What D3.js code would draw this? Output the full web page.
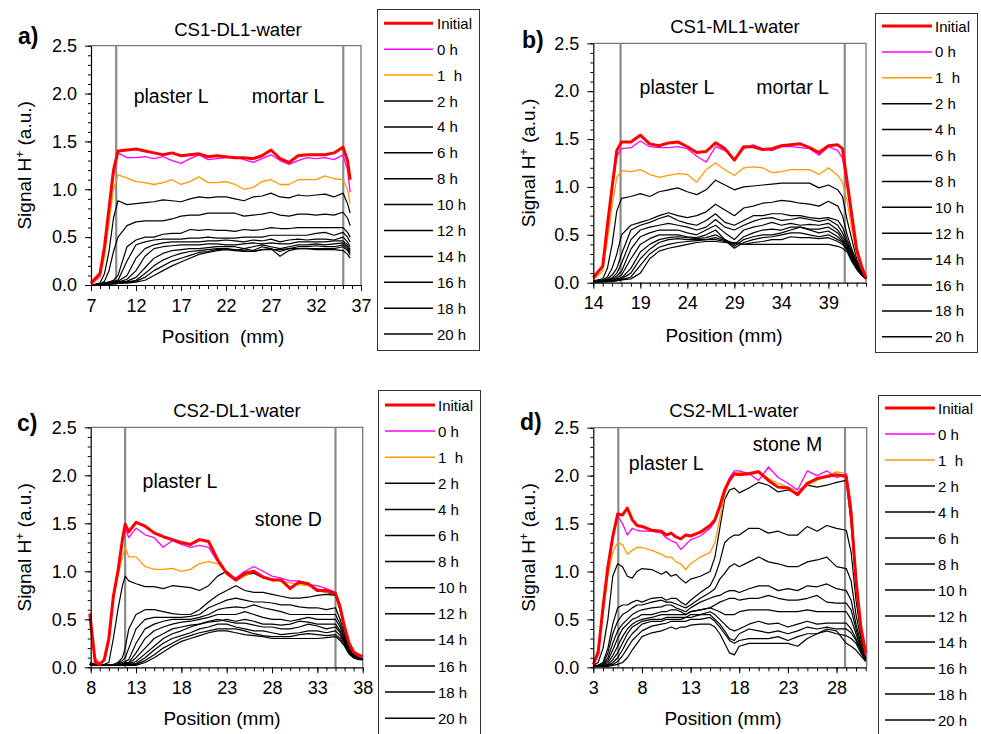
<!DOCTYPE html>
<html><head><meta charset="utf-8">
<script src="https://cdn.jsdelivr.net/npm/d3@7"></script>
<style>
body{margin:0;background:#fff;}
svg{display:block;font-family:"Liberation Sans",Arial,Helvetica,sans-serif;}
text{white-space:pre;}
</style>
</head><body>
<svg id="chart" width="981" height="734"></svg>
<script>
// ---------------- DATA ----------------
const seriesNames = ["Initial","0 h","1  h","2 h","4 h","6 h","8 h","10 h","12 h","14 h","16 h","18 h","20 h"];
const yTicks = [0, 0.5, 1.0, 1.5, 2.0, 2.5];

// Panel a) CS1-DL1-water
const xTicksA = [7, 12, 17, 22, 27, 32, 37];
const xGridA = [7,8,8.5,9,9.5,10, 11,12,13,14,15,16,17,18,19,20,21,22,23,24,25,26,27,28,29,30,31,32,33,34,35, 35.5,35.8];
const valuesA = [
 [0.02,0.12,0.40,0.80,1.20,1.40, 1.41,1.42,1.40,1.38,1.36, 1.38,1.35,1.36,1.37,1.34, 1.35,1.34,1.33,1.33,1.32, 1.35,1.41,1.32,1.28,1.35, 1.36,1.36,1.36,1.38,1.44, 1.30,1.10],
 [0.01,0.10,0.38,0.78,1.15,1.38, 1.33,1.33,1.34,1.32,1.34, 1.30,1.27,1.32,1.36,1.31, 1.32,1.33,1.34,1.31,1.28, 1.32,1.36,1.30,1.26,1.30, 1.33,1.32,1.33,1.31,1.36, 1.20,0.97],
 [0.00,0.08,0.30,0.65,1.00,1.15, 1.12,1.08,1.07,1.05,1.07, 1.10,1.05,1.08,1.13,1.07, 1.07,1.08,1.05,1.00,1.02, 1.08,1.10,1.05,1.05,1.10, 1.10,1.10,1.14,1.11,1.10, 1.00,0.85],
 [0.00,0.02,0.12,0.35,0.70,0.88, 0.84,0.85,0.86,0.87,0.89, 0.88,0.87,0.90,0.92,0.91, 0.92,0.92,0.90,0.88,0.92, 0.93,0.96,0.92,0.91,0.94, 0.93,0.94,0.95,0.92,0.96, 0.85,0.75],
 [0.00,0.01,0.04,0.15,0.35,0.50, 0.62,0.66,0.67,0.67,0.67, 0.69,0.72,0.73,0.73,0.75, 0.75,0.75,0.75,0.72,0.73, 0.74,0.76,0.73,0.72,0.74, 0.74,0.73,0.74,0.73,0.76, 0.70,0.62],
 [0.00,0.01,0.02,0.03,0.05,0.10, 0.40,0.47,0.50,0.50,0.53, 0.54,0.54,0.58,0.57,0.58, 0.57,0.57,0.56,0.58,0.57, 0.58,0.60,0.59,0.59,0.60, 0.60,0.60,0.60,0.60,0.60, 0.55,0.50],
 [0.00,0.01,0.02,0.03,0.04,0.05, 0.25,0.42,0.45,0.47,0.48, 0.48,0.48,0.49,0.49,0.50, 0.49,0.49,0.49,0.50,0.50, 0.50,0.52,0.52,0.52,0.52, 0.52,0.54,0.55,0.52,0.55, 0.50,0.45],
 [0.00,0.01,0.02,0.03,0.03,0.04, 0.10,0.28,0.38,0.42,0.44, 0.45,0.45,0.45,0.45,0.46, 0.46,0.47,0.46,0.45,0.47, 0.46,0.48,0.45,0.47,0.48, 0.47,0.48,0.48,0.47,0.50, 0.45,0.40],
 [0.00,0.01,0.02,0.02,0.03,0.03, 0.06,0.15,0.30,0.38,0.40, 0.41,0.42,0.42,0.42,0.43, 0.43,0.42,0.42,0.43,0.44, 0.43,0.44,0.43,0.43,0.45, 0.45,0.45,0.45,0.46,0.46, 0.42,0.37],
 [0.00,0.01,0.01,0.02,0.02,0.03, 0.04,0.08,0.18,0.28,0.33, 0.36,0.37,0.38,0.38,0.39, 0.40,0.40,0.40,0.38,0.40, 0.42,0.40,0.38,0.40,0.42, 0.42,0.43,0.42,0.43,0.44, 0.40,0.35],
 [0.00,0.01,0.01,0.02,0.02,0.02, 0.03,0.05,0.12,0.20,0.26, 0.30,0.33,0.35,0.36,0.37, 0.38,0.38,0.36,0.38,0.36, 0.40,0.38,0.35,0.38,0.40, 0.40,0.41,0.40,0.40,0.42, 0.38,0.33],
 [0.00,0.00,0.01,0.01,0.02,0.02, 0.03,0.04,0.08,0.15,0.20, 0.25,0.28,0.31,0.34,0.35, 0.37,0.38,0.37,0.36,0.35, 0.37,0.38,0.30,0.36,0.38, 0.38,0.38,0.38,0.38,0.40, 0.36,0.31],
 [0.00,0.00,0.01,0.01,0.01,0.02, 0.02,0.03,0.05,0.10,0.15, 0.20,0.24,0.28,0.32,0.34, 0.36,0.37,0.36,0.35,0.35, 0.37,0.37,0.37,0.38,0.38, 0.38,0.37,0.37,0.37,0.36, 0.32,0.28]
];

// Panel b) CS1-ML1-water
const xTicksB = [14, 19, 24, 29, 34, 39];
const xGridB = [14,15,15.5,16,16.5, 17,18,19,20,21,22,23,24,25,26,27,28,29,30,31,32,33,34,35,36,37,38,39,40, 40.5,41,41.5,42,42.5,43];
const valuesB = [
 [0.05,0.17,0.60,1.00,1.38, 1.47,1.47,1.54,1.45,1.43,1.46, 1.47,1.42,1.36,1.37,1.46,1.40, 1.28,1.42,1.42,1.39,1.40,1.43, 1.44,1.45,1.41,1.36,1.43,1.44, 1.40,1.05,0.70,0.35,0.18,0.05],
 [0.07,0.18,0.58,0.98,1.32, 1.40,1.41,1.48,1.42,1.41,1.41, 1.42,1.40,1.32,1.26,1.42,1.38, 1.28,1.40,1.44,1.40,1.38,1.42, 1.42,1.41,1.40,1.33,1.42,1.38, 1.30,1.00,0.65,0.33,0.17,0.06],
 [0.03,0.12,0.45,0.80,1.10, 1.17,1.16,1.18,1.13,1.10,1.12, 1.14,1.13,1.05,1.18,1.25,1.18, 1.12,1.20,1.21,1.20,1.15,1.16, 1.18,1.18,1.18,1.13,1.20,1.12, 1.05,0.85,0.55,0.30,0.15,0.05],
 [0.02,0.04,0.15,0.40,0.75, 0.88,0.90,0.93,0.90,0.95,0.97, 0.99,0.95,0.92,0.97,1.07,1.02, 0.97,1.00,1.01,1.02,1.03,1.04, 1.04,1.04,1.04,0.99,1.02,0.97, 0.90,0.65,0.45,0.25,0.13,0.05],
 [0.01,0.03,0.06,0.15,0.30, 0.50,0.60,0.63,0.66,0.70,0.73, 0.70,0.68,0.70,0.74,0.82,0.76, 0.70,0.78,0.80,0.83,0.84,0.86, 0.85,0.83,0.82,0.80,0.85,0.80, 0.70,0.50,0.35,0.22,0.12,0.05],
 [0.01,0.02,0.04,0.08,0.15, 0.30,0.55,0.60,0.63,0.67,0.70, 0.65,0.62,0.60,0.65,0.72,0.63, 0.60,0.65,0.70,0.70,0.72,0.72, 0.70,0.70,0.68,0.67,0.68,0.65, 0.58,0.45,0.32,0.20,0.12,0.05],
 [0.01,0.02,0.03,0.05,0.10, 0.20,0.45,0.55,0.58,0.60,0.62, 0.60,0.58,0.55,0.58,0.66,0.58, 0.55,0.60,0.64,0.67,0.68,0.65, 0.66,0.68,0.66,0.64,0.66,0.60, 0.52,0.42,0.30,0.20,0.11,0.05],
 [0.01,0.02,0.03,0.04,0.07, 0.12,0.35,0.48,0.52,0.55,0.55, 0.55,0.52,0.50,0.55,0.60,0.52, 0.45,0.55,0.58,0.60,0.63,0.60, 0.62,0.60,0.61,0.60,0.62,0.55, 0.48,0.40,0.28,0.18,0.10,0.04],
 [0.01,0.01,0.02,0.03,0.05, 0.08,0.25,0.40,0.46,0.50,0.50, 0.50,0.48,0.47,0.50,0.55,0.45, 0.40,0.48,0.52,0.55,0.56,0.55, 0.58,0.58,0.56,0.56,0.58,0.52, 0.45,0.38,0.27,0.17,0.10,0.04],
 [0.01,0.01,0.02,0.03,0.04, 0.05,0.15,0.32,0.40,0.45,0.47, 0.48,0.47,0.46,0.47,0.50,0.45, 0.38,0.45,0.48,0.50,0.50,0.52, 0.55,0.58,0.55,0.52,0.54,0.48, 0.43,0.36,0.26,0.16,0.09,0.04],
 [0.01,0.01,0.02,0.02,0.03, 0.04,0.10,0.25,0.35,0.42,0.45, 0.46,0.45,0.45,0.45,0.47,0.44, 0.36,0.42,0.45,0.47,0.48,0.50, 0.52,0.52,0.50,0.48,0.50,0.45, 0.42,0.35,0.25,0.16,0.09,0.04],
 [0.01,0.01,0.01,0.02,0.02, 0.03,0.06,0.18,0.30,0.37,0.40, 0.42,0.43,0.44,0.45,0.45,0.43, 0.42,0.40,0.42,0.43,0.45,0.45, 0.48,0.47,0.47,0.46,0.47,0.43, 0.40,0.34,0.24,0.15,0.09,0.04],
 [0.01,0.01,0.01,0.01,0.02, 0.03,0.04,0.10,0.25,0.33,0.36, 0.38,0.40,0.42,0.43,0.43,0.42, 0.41,0.40,0.40,0.40,0.40,0.40, 0.40,0.40,0.40,0.40,0.40,0.38, 0.36,0.32,0.22,0.14,0.08,0.04]
];

// Panel c) CS2-DL1-water
const xTicksC = [8, 13, 18, 23, 28, 33, 38];
const xGridC = [7.9,8.5,9,9.5,10,10.5,11,11.5,11.8,12.2, 13,14,15,16,17,18,19,20,21,22,23,24,25,26,27,28,29,30,31,32,33,34,35, 35.5,36,36.5,37,37.5,38];
const valuesC = [
 [0.56,0.05,0.03,0.08,0.30,0.74,1.00,1.33,1.49,1.41, 1.51,1.47,1.40,1.36,1.33, 1.30,1.28,1.33,1.31,1.12, 0.98,0.91,0.98,1.00,0.94, 0.91,0.91,0.82,0.89,0.87, 0.80,0.80,0.77, 0.63,0.42,0.25,0.16,0.13,0.11],
 [0.50,0.08,0.03,0.07,0.28,0.75,1.00,1.30,1.45,1.35, 1.45,1.38,1.35,1.25,1.32, 1.28,1.25,1.27,1.25,1.10, 0.98,0.93,1.00,1.05,1.00, 0.95,0.93,0.90,0.90,0.86, 0.85,0.82,0.78, 0.62,0.40,0.25,0.15,0.12,0.10],
 [0.45,0.10,0.05,0.07,0.25,0.70,0.95,1.15,1.25,1.15, 1.15,1.05,1.02,1.02,1.03, 1.00,1.02,1.08,1.10,1.08, 0.98,0.90,0.95,1.00,0.95, 0.92,0.90,0.88,0.86,0.85, 0.82,0.78,0.78, 0.65,0.42,0.25,0.15,0.12,0.10],
 [0.05,0.03,0.02,0.03,0.05,0.30,0.60,0.85,0.95,0.90, 0.87,0.84,0.84,0.82,0.85, 0.84,0.83,0.80,0.85,0.95, 1.00,0.92,0.96,0.98,0.93, 0.92,0.90,0.83,0.88,0.86, 0.80,0.78,0.76, 0.60,0.40,0.22,0.14,0.12,0.10],
 [0.03,0.02,0.02,0.02,0.02,0.03,0.05,0.10,0.20,0.40, 0.55,0.60,0.60,0.58,0.56, 0.55,0.55,0.60,0.68,0.75, 0.80,0.85,0.80,0.78,0.78, 0.76,0.74,0.72,0.72,0.73, 0.75,0.76,0.75, 0.60,0.38,0.22,0.14,0.11,0.10],
 [0.03,0.02,0.02,0.02,0.02,0.02,0.04,0.07,0.10,0.20, 0.40,0.50,0.52,0.52,0.52, 0.52,0.53,0.55,0.62,0.66, 0.70,0.72,0.70,0.68,0.68, 0.67,0.65,0.65,0.63,0.62, 0.62,0.60,0.62, 0.50,0.35,0.20,0.13,0.11,0.10],
 [0.03,0.02,0.02,0.02,0.02,0.02,0.03,0.05,0.06,0.08, 0.25,0.40,0.45,0.48,0.50, 0.50,0.50,0.52,0.55,0.60, 0.62,0.63,0.62,0.65,0.62, 0.60,0.58,0.55,0.55,0.55, 0.55,0.55,0.55, 0.45,0.32,0.18,0.12,0.10,0.09],
 [0.03,0.02,0.02,0.02,0.02,0.02,0.03,0.04,0.05,0.05, 0.15,0.30,0.38,0.42,0.45, 0.47,0.48,0.50,0.52,0.55, 0.55,0.55,0.58,0.55,0.52, 0.50,0.50,0.48,0.50,0.52, 0.50,0.50,0.50, 0.42,0.30,0.17,0.12,0.10,0.09],
 [0.03,0.02,0.02,0.02,0.02,0.02,0.02,0.03,0.04,0.04, 0.10,0.20,0.30,0.35,0.40, 0.42,0.44,0.45,0.47,0.48, 0.50,0.48,0.50,0.48,0.45, 0.45,0.44,0.45,0.48,0.47, 0.45,0.45,0.45, 0.38,0.28,0.16,0.11,0.10,0.09],
 [0.03,0.02,0.02,0.02,0.02,0.02,0.02,0.03,0.03,0.04, 0.06,0.14,0.22,0.30,0.35, 0.38,0.42,0.45,0.48,0.50, 0.48,0.46,0.46,0.44,0.42, 0.42,0.40,0.40,0.42,0.45, 0.43,0.40,0.42, 0.36,0.26,0.15,0.11,0.09,0.08],
 [0.03,0.02,0.02,0.02,0.02,0.02,0.02,0.02,0.03,0.03, 0.04,0.10,0.18,0.25,0.30, 0.33,0.36,0.40,0.42,0.45, 0.45,0.42,0.40,0.38,0.38, 0.36,0.34,0.35,0.36,0.38, 0.38,0.36,0.38, 0.33,0.25,0.15,0.10,0.09,0.08],
 [0.03,0.02,0.02,0.02,0.02,0.02,0.02,0.02,0.02,0.03, 0.03,0.07,0.13,0.20,0.25, 0.30,0.33,0.36,0.38,0.40, 0.40,0.40,0.38,0.35,0.33, 0.32,0.32,0.32,0.34,0.35, 0.34,0.33,0.34, 0.30,0.23,0.14,0.10,0.09,0.08],
 [0.03,0.02,0.02,0.02,0.02,0.02,0.02,0.02,0.02,0.02, 0.02,0.05,0.10,0.16,0.22, 0.27,0.30,0.33,0.36,0.38, 0.38,0.36,0.34,0.33,0.32, 0.30,0.30,0.30,0.30,0.30, 0.30,0.31,0.32, 0.28,0.22,0.14,0.10,0.08,0.08]
];

// Panel d) CS2-ML1-water
const xTicksD = [3, 8, 13, 18, 23, 28];
const xGridD = [3,3.5,4,4.5,5,5.5,6,6.5,7,7.5,8, 9,10, 10.5,11,11.5,12,12.5,13, 14,15, 15.5,16,16.5,17,17.5,18, 19,20,21,22,23,24,25,26,27,28,29, 29.5,30,30.5,31];
const valuesD = [
 [0.03,0.15,0.63,1.05,1.36,1.60,1.59,1.66,1.54,1.48,1.47, 1.43,1.42, 1.38,1.40,1.36,1.34,1.38,1.37, 1.41,1.48, 1.54,1.68,1.85,1.95,2.02,2.01, 2.02,2.04,1.95,1.88,1.87,1.80,1.92,1.97,1.99,2.01,1.99, 1.60,0.91,0.42,0.15],
 [0.00,0.18,0.65,1.05,1.40,1.58,1.50,1.38,1.45,1.43,1.42, 1.42,1.40, 1.35,1.32,1.30,1.23,1.28,1.33, 1.37,1.45, 1.52,1.67,1.85,1.98,2.05,2.05, 2.02,1.95,2.09,1.98,1.92,1.85,2.05,2.00,2.05,1.98,2.02, 1.70,0.95,0.42,0.12],
 [0.05,0.20,0.55,0.95,1.20,1.30,1.28,1.18,1.22,1.25,1.25, 1.22,1.18, 1.15,1.15,1.10,1.08,1.02,1.08, 1.15,1.20, 1.30,1.55,1.80,1.95,2.02,2.03, 2.03,2.05,1.97,1.92,1.88,1.85,1.90,1.95,2.00,2.04,2.02, 1.60,0.90,0.40,0.15],
 [0.02,0.05,0.20,0.50,0.95,1.08,1.05,0.95,0.93,1.00,1.03, 1.02,0.97, 1.00,0.95,0.97,0.92,0.88,0.92, 0.95,1.00, 1.15,1.45,1.75,1.85,1.87,1.82, 1.87,1.93,1.90,1.83,1.85,1.82,1.90,1.88,1.90,1.93,1.95, 1.50,0.85,0.40,0.12],
 [0.01,0.02,0.05,0.20,0.45,0.62,0.65,0.65,0.68,0.70,0.68, 0.72,0.73, 0.70,0.72,0.72,0.68,0.65,0.70, 0.78,0.85, 0.95,1.10,1.30,1.35,1.38,1.38, 1.45,1.45,1.40,1.42,1.38,1.38,1.47,1.42,1.48,1.45,1.43, 1.20,0.70,0.35,0.12],
 [0.01,0.02,0.04,0.15,0.35,0.48,0.55,0.58,0.62,0.65,0.65, 0.68,0.70, 0.68,0.68,0.66,0.64,0.62,0.65, 0.72,0.78, 0.82,0.92,0.98,1.05,1.08,1.05, 1.10,1.15,1.10,1.08,1.05,1.05,1.10,1.12,1.15,1.05,1.03, 0.90,0.55,0.30,0.10],
 [0.01,0.02,0.03,0.10,0.25,0.38,0.45,0.50,0.55,0.58,0.60, 0.62,0.63, 0.65,0.65,0.62,0.60,0.58,0.62, 0.68,0.72, 0.74,0.75,0.78,0.80,0.80,0.78, 0.82,0.85,0.85,0.80,0.82,0.80,0.85,0.84,0.87,0.82,0.80, 0.70,0.45,0.25,0.10],
 [0.01,0.02,0.03,0.07,0.18,0.30,0.40,0.45,0.50,0.52,0.55, 0.55,0.58, 0.58,0.60,0.60,0.58,0.55,0.58, 0.60,0.62, 0.65,0.68,0.70,0.72,0.72,0.70, 0.72,0.72,0.75,0.72,0.70,0.70,0.72,0.75,0.68,0.67,0.67, 0.60,0.40,0.22,0.09],
 [0.01,0.01,0.02,0.05,0.12,0.22,0.32,0.40,0.45,0.48,0.50, 0.52,0.55, 0.55,0.55,0.55,0.55,0.55,0.58, 0.60,0.62, 0.60,0.58,0.55,0.55,0.55,0.58, 0.60,0.60,0.60,0.58,0.58,0.58,0.60,0.58,0.58,0.58,0.58, 0.50,0.35,0.20,0.08],
 [0.01,0.01,0.02,0.03,0.08,0.15,0.25,0.35,0.42,0.45,0.48, 0.50,0.50, 0.52,0.52,0.52,0.52,0.52,0.55, 0.55,0.58, 0.55,0.50,0.45,0.40,0.38,0.40, 0.45,0.48,0.45,0.46,0.42,0.45,0.48,0.45,0.46,0.46,0.46, 0.40,0.30,0.18,0.08],
 [0.01,0.01,0.01,0.02,0.05,0.10,0.18,0.28,0.35,0.40,0.45, 0.48,0.48, 0.50,0.50,0.50,0.50,0.52,0.52, 0.55,0.55, 0.50,0.45,0.38,0.30,0.28,0.35, 0.40,0.38,0.36,0.38,0.35,0.38,0.42,0.40,0.42,0.40,0.40, 0.36,0.28,0.17,0.08],
 [0.01,0.01,0.01,0.02,0.03,0.06,0.12,0.20,0.28,0.33,0.38, 0.43,0.45, 0.46,0.48,0.48,0.48,0.48,0.50, 0.50,0.52, 0.48,0.42,0.35,0.28,0.25,0.28, 0.30,0.30,0.30,0.32,0.28,0.32,0.35,0.35,0.38,0.35,0.33, 0.30,0.25,0.15,0.07],
 [0.01,0.01,0.01,0.01,0.02,0.03,0.05,0.10,0.18,0.25,0.32, 0.36,0.38, 0.40,0.42,0.40,0.42,0.42,0.44, 0.45,0.45, 0.42,0.35,0.25,0.15,0.13,0.22, 0.25,0.25,0.25,0.25,0.25,0.22,0.30,0.35,0.40,0.38,0.25, 0.22,0.18,0.12,0.06]
];

// ---------------- STYLE / LAYOUT ----------------
const seriesColors = ["#ff0000","#ff00ff","#ff9900","#000","#000","#000","#000","#000","#000","#000","#000","#000","#000"];
const seriesWidths = [3, 1.3, 1.3, 1.2, 1.2, 1.2, 1.2, 1.2, 1.2, 1.2, 1.2, 1.2, 1.2];

const panels = [
 {label:"a)", title:"CS1-DL1-water", xs:xGridA, ys:valuesA, xDomain:[7,37], xTicks:xTicksA,
  L:91, T:45.7, R:361, B:285, grey:[9.8,35.03],
  notes:[{t:"plaster L", x:15.9, y:1.90},{t:"mortar L", x:28.9, y:1.90}],
  titlePos:[238,36], labelPos:[18,44], yLabX:24, xLab:{t:"Position\u00a0 (mm)", x:223, y:343},
  legend:{x:377, y:9, w:102, h:341, lx1:384, lx2:433, tx:437, y0:23.3, dy:25.9}},
 {label:"b)", title:"CS1-ML1-water", xs:xGridB, ys:valuesB, xDomain:[14,43], xTicks:xTicksB,
  L:593.3, T:43.3, R:866, B:282.7, grey:[16.9,40.74],
  notes:[{t:"plaster L", x:22.9, y:1.97},{t:"mortar L", x:35.2, y:1.97}],
  titlePos:[735,33], labelPos:[522,48], yLabX:528, xLab:{t:"Position (mm)", x:724, y:342},
  legend:{x:875, y:13, w:102, h:339, lx1:882, lx2:932, tx:935, y0:26, dy:25.9}},
 {label:"c)", title:"CS2-DL1-water", xs:xGridC, ys:valuesC, xDomain:[8,38], xTicks:xTicksC,
  L:90.7, T:427.3, R:362.7, B:667.3, grey:[11.8,35.0],
  notes:[{t:"plaster L", x:17.85, y:1.87},{t:"stone D", x:29.8, y:1.47}],
  titlePos:[237,417], labelPos:[17,431], yLabX:24, xLab:{t:"Position (mm)", x:222, y:725},
  legend:{x:378, y:390, w:102, h:360, lx1:385, lx2:435, tx:438, y0:405, dy:26.1}},
 {label:"d)", title:"CS2-ML1-water", xs:xGridD, ys:valuesD, xDomain:[3,31.1], xTicks:xTicksD,
  L:593.3, T:427.7, R:866.7, B:667.3, grey:[5.57,28.87],
  notes:[{t:"plaster L", x:10.5, y:2.06},{t:"stone M", x:22.96, y:2.26}],
  titlePos:[734,417], labelPos:[520,430], yLabX:528, xLab:{t:"Position (mm)", x:723, y:725},
  legend:{x:878, y:395, w:110, h:360, lx1:885, lx2:935, tx:938, y0:408, dy:26}}
];

// ---------------- DRAW ----------------
const svg = d3.select("#chart");
const FONT = '"Liberation Sans",Arial,Helvetica,sans-serif';

panels.forEach(p => {
  const x = d3.scaleLinear().domain(p.xDomain).range([p.L, p.R]);
  const y = d3.scaleLinear().domain([0, 2.5]).range([p.B, p.T]);
  const g = svg.append("g");

  // frame (top & right)
  g.append("path").attr("d", `M${p.L},${p.T}H${p.R}V${p.B}`)
    .attr("fill","none").attr("stroke","#777").attr("stroke-width",1.3);

  // grey interface lines
  p.grey.forEach(v => g.append("line")
    .attr("x1", x(v)).attr("x2", x(v)).attr("y1", p.T).attr("y2", p.B)
    .attr("stroke","#8a8a8a").attr("stroke-width",2.2));

  // series (draw black first, coloured on top)
  const line = d3.line().defined(d => d[1] != null && !isNaN(d[1]))
    .x(d => x(d[0])).y(d => y(d[1]));
  for (let i = p.ys.length - 1; i >= 0; i--) {
    const pts = p.xs.map((xv, k) => [xv, p.ys[i][k]]);
    g.append("path").datum(pts).attr("d", line)
      .attr("fill","none").attr("stroke", seriesColors[i])
      .attr("stroke-width", seriesWidths[i]).attr("stroke-linejoin","round");
  }

  // x axis: minor ticks
  const xMinor = d3.range(Math.ceil(p.xDomain[0]), p.xDomain[1] + 0.001, 1);
  g.append("g").attr("transform", `translate(0,${p.B})`)
    .call(d3.axisBottom(x).tickValues(xMinor).tickSize(4).tickSizeOuter(0).tickFormat(""))
    .call(s => s.select(".domain").remove());
  // x axis: major
  const xa = g.append("g").attr("transform", `translate(0,${p.B})`)
    .call(d3.axisBottom(x).tickValues(p.xTicks).tickSize(6).tickSizeOuter(0).tickPadding(8).tickFormat(d3.format("d")));
  xa.select(".domain").attr("d", `M${p.L},0.5H${p.R}`).attr("stroke","#000").attr("stroke-width",1.2);
  xa.selectAll("text").attr("font-size", 18).attr("font-family", FONT).attr("fill","#000");

  // y axis: minor
  const yMinor = d3.range(0, 2.501, 0.1);
  g.append("g").attr("transform", `translate(${p.L},0)`)
    .call(d3.axisLeft(y).tickValues(yMinor).tickSize(3).tickSizeOuter(0).tickFormat(""))
    .call(s => s.select(".domain").remove());
  const ya = g.append("g").attr("transform", `translate(${p.L},0)`)
    .call(d3.axisLeft(y).tickValues(yTicks).tickSize(6).tickSizeOuter(0).tickPadding(8).tickFormat(d3.format(".1f")));
  ya.select(".domain").attr("stroke","#000").attr("stroke-width",1.2);
  ya.selectAll("text").attr("font-size", 18).attr("font-family", FONT).attr("fill","#000");

  // notes
  p.notes.forEach(n => g.append("text").attr("x", x(n.x)).attr("y", y(n.y))
    .attr("text-anchor","middle").attr("font-size", 19.5).text(n.t));

  // title
  g.append("text").attr("x", p.titlePos[0]).attr("y", p.titlePos[1])
    .attr("text-anchor","middle").attr("font-size", 18.5).text(p.title);
  // panel label
  g.append("text").attr("x", p.labelPos[0]).attr("y", p.labelPos[1])
    .attr("font-size", 23).attr("font-weight","bold").text(p.label);

  // y label
  const yl = g.append("text")
    .attr("transform", `translate(${p.yLabX},${(p.T + p.B) / 2}) rotate(-90)`)
    .attr("text-anchor","middle").attr("dy","0.35em").attr("font-size", 19);
  yl.append("tspan").text("Signal H");
  yl.append("tspan").attr("font-size", 12).attr("dy", -7).text("+");
  yl.append("tspan").attr("dy", 7).text(" (a.u.)");

  // x label
  g.append("text").attr("x", p.xLab.x).attr("y", p.xLab.y)
    .attr("text-anchor","middle").attr("font-size", 19).text(p.xLab.t);

  // legend
  const lg = p.legend;
  g.append("rect").attr("x", lg.x + 0.5).attr("y", lg.y + 0.5).attr("width", lg.w).attr("height", lg.h)
    .attr("fill","#fff").attr("stroke","#333").attr("stroke-width",1);
  seriesNames.forEach((name, i) => {
    const yy = lg.y0 + i * lg.dy;
    g.append("line").attr("x1", lg.lx1).attr("x2", lg.lx2).attr("y1", yy).attr("y2", yy)
      .attr("stroke", seriesColors[i]).attr("stroke-width", i === 0 ? 3 : 1.5);
    g.append("text").attr("x", lg.tx).attr("y", yy + 5.5).attr("font-size", 15).text(name);
  });
});
</script>
</body></html>
